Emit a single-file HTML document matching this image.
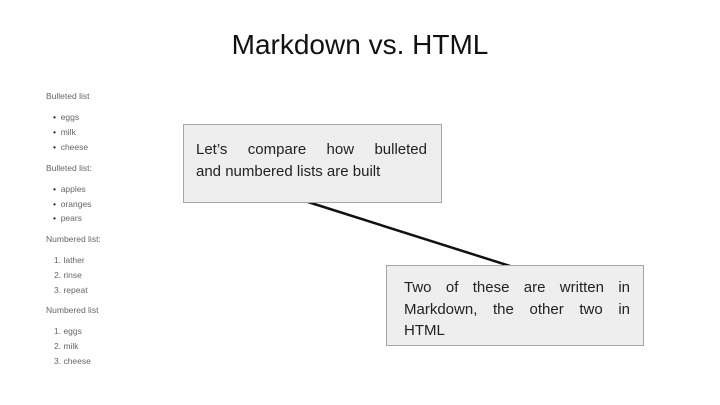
<!DOCTYPE html>
<html><head><style>
body{margin:0;width:720px;height:405px;background:#fff;position:relative;overflow:hidden;font-family:"Liberation Sans",sans-serif}
.t{position:absolute;white-space:nowrap}
.s{font-size:8.5px;color:#666;position:absolute;white-space:nowrap;line-height:10px}
.s b{color:#222;font-weight:normal}
.box{position:absolute;background:#eeeeee;border:1px solid #a6a6a6;box-sizing:border-box;color:#222;font-size:15px;line-height:21.5px}
.j{text-align:justify;text-align-last:justify;white-space:nowrap}
.l{white-space:nowrap}
</style></head><body>
<div class="t" style="left:0;width:720px;text-align:center;top:29px;font-size:28px;color:#111">Markdown vs. HTML</div>
<div class="s" style="left:46px;top:91px">Bulleted list</div>
<div class="s" style="left:53px;top:112px"><b>•</b>&nbsp; eggs</div>
<div class="s" style="left:53px;top:127px"><b>•</b>&nbsp; milk</div>
<div class="s" style="left:53px;top:142px"><b>•</b>&nbsp; cheese</div>
<div class="s" style="left:46px;top:163px">Bulleted list:</div>
<div class="s" style="left:53px;top:184px"><b>•</b>&nbsp; apples</div>
<div class="s" style="left:53px;top:199px"><b>•</b>&nbsp; oranges</div>
<div class="s" style="left:53px;top:213px"><b>•</b>&nbsp; pears</div>
<div class="s" style="left:46px;top:234px">Numbered list:</div>
<div class="s" style="left:54px;top:255px">1. lather</div>
<div class="s" style="left:54px;top:270px">2. rinse</div>
<div class="s" style="left:54px;top:285px">3. repeat</div>
<div class="s" style="left:46px;top:305px">Numbered list</div>
<div class="s" style="left:54px;top:326px">1. eggs</div>
<div class="s" style="left:54px;top:341px">2. milk</div>
<div class="s" style="left:54px;top:356px">3. cheese</div>
<svg style="position:absolute;left:0;top:0" width="720" height="405"><line x1="308" y1="202" x2="510" y2="266" stroke="#111" stroke-width="2.5"/></svg>
<div class="box" style="left:183px;top:124px;width:259px;height:79px;padding:14px 14px 0 12px">
<div class="j">Let’s compare how bulleted</div><div class="l">and numbered lists are built</div></div>
<div class="box" style="left:386px;top:265px;width:258px;height:81px;padding:11px 13px 0 17px">
<div class="j">Two of these are written in</div><div class="j">Markdown, the other two in</div><div class="l">HTML</div></div>
</body></html>
